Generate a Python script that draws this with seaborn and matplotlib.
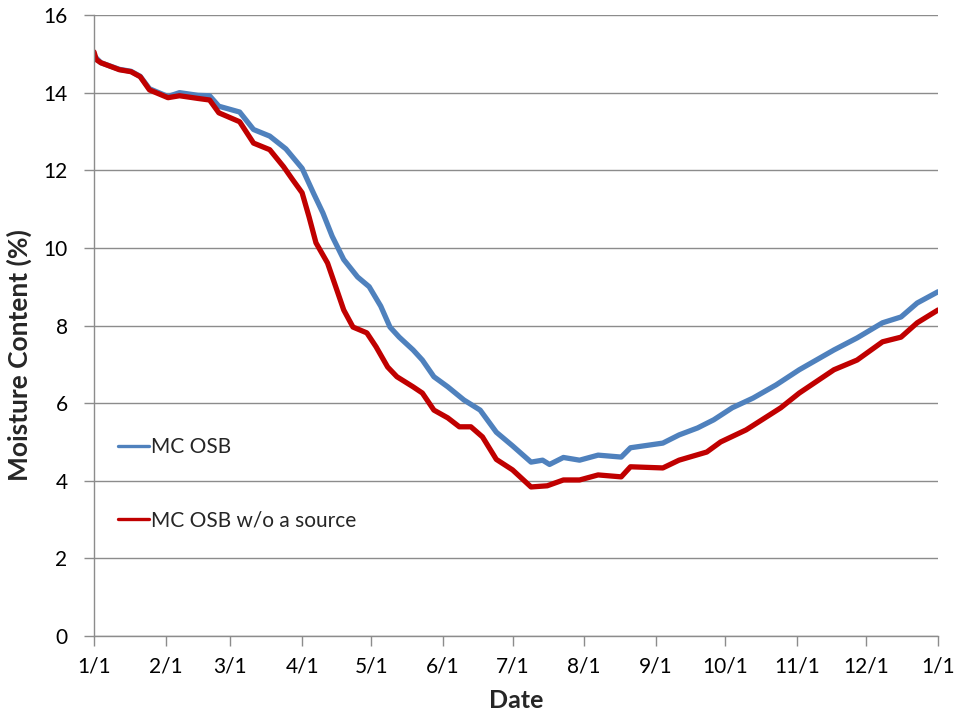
import pandas as pd
import seaborn as sns
import matplotlib.pyplot as plt
from matplotlib.lines import Line2D

# day of year (0 = 1/1) and moisture content
osb_days = [0, 3, 11, 16, 20, 24, 32, 37, 45, 50, 54, 63, 69, 76, 83, 90, 95, 99,
            103, 108, 114, 119, 124, 128, 132, 138, 142, 147, 153, 160, 167, 174,
            181, 189, 194, 197, 203, 210, 218, 228, 232, 246, 253, 261, 268, 276,
            285, 295, 305, 320, 330, 341, 349, 356, 365]
osb_mc = [14.95, 14.77, 14.6, 14.55, 14.42, 14.1, 13.9, 14.0, 13.93, 13.92, 13.65,
          13.5, 13.05, 12.88, 12.55, 12.05, 11.4, 10.9, 10.3, 9.7, 9.25, 9.0, 8.5,
          7.96, 7.7, 7.37, 7.11, 6.68, 6.42, 6.08, 5.82, 5.25, 4.9, 4.48, 4.53,
          4.42, 4.6, 4.53, 4.66, 4.61, 4.85, 4.97, 5.18, 5.36, 5.57, 5.88, 6.13,
          6.47, 6.86, 7.37, 7.68, 8.07, 8.22, 8.58, 8.87]

nosrc_days = [0, 1, 3, 11, 16, 20, 24, 32, 37, 45, 50, 54, 63, 69, 76, 82, 86, 90,
              93, 96, 101, 105, 108, 112, 118, 122, 127, 131, 138, 142, 147, 153,
              158, 163, 168, 174, 181, 189, 196, 203, 210, 218, 228, 232, 246, 253,
              265, 271, 282, 297, 305, 320, 330, 341, 349, 356, 365]
nosrc_mc = [15.05, 14.85, 14.77, 14.59, 14.54, 14.41, 14.07, 13.87, 13.92, 13.85,
            13.81, 13.48, 13.25, 12.7, 12.53, 12.09, 11.75, 11.42, 10.8, 10.13, 9.61,
            8.92, 8.4, 7.96, 7.81, 7.45, 6.93, 6.68, 6.42, 6.26, 5.82, 5.62, 5.39,
            5.39, 5.13, 4.55, 4.28, 3.84, 3.87, 4.02, 4.02, 4.15, 4.1, 4.36, 4.33,
            4.53, 4.74, 5.0, 5.31, 5.88, 6.26, 6.86, 7.11, 7.58, 7.7, 8.07, 8.4]

series_names = ["MC OSB", "MC OSB w/o a source"]
series_colors = ["#4F81BD", "#C00000"]

start = pd.Timestamp("2013-01-01")
df = pd.concat([
    pd.DataFrame({"date": start + pd.to_timedelta(osb_days, unit="D"),
                  "mc": osb_mc, "series": series_names[0]}),
    pd.DataFrame({"date": start + pd.to_timedelta(nosrc_days, unit="D"),
                  "mc": nosrc_mc, "series": series_names[1]}),
])

sns.set_theme(style="white")
plt.rcParams['font.family'] = ['Lato', 'DejaVu Sans']

fig = plt.figure(figsize=(9.56, 7.15), dpi=100)
ax = fig.add_axes([0.0983, 0.1105, 0.8829, 0.8685])

sns.lineplot(data=df, x="date", y="mc", hue="series", palette=series_colors,
             linewidth=3.8, ax=ax, legend=False)

ax.set_ylim(0, 16)
ax.set_yticks(range(0, 17, 2))
ax.set_xlim(start, pd.Timestamp("2014-01-01"))
ticks = pd.date_range("2013-01-01", "2014-01-01", freq="MS")
ax.set_xticks(ticks)
ax.set_xticklabels([f"{t.month}/{t.day}" for t in ticks])

ax.yaxis.grid(True, color="#8c8c8c", linewidth=1.0)
ax.xaxis.grid(False)
ax.set_axisbelow(True)
for s in ["top", "right"]:
    ax.spines[s].set_visible(False)
for s in ["left", "bottom"]:
    ax.spines[s].set_color("#8c8c8c")
    ax.spines[s].set_linewidth(1.0)
ax.tick_params(axis="both", which="major", labelsize=15, length=7, width=1,
               color="#8c8c8c", direction="out", bottom=True, left=True,
               labelcolor="black")
ax.tick_params(axis="y", pad=12)
ax.tick_params(axis="x", pad=8)

ax.set_xlabel("Date", fontsize=18, fontweight="bold")
ax.xaxis.set_label_coords(0.5, -0.085)
ax.set_ylabel("Moisture Content (%)", fontsize=19, fontweight="bold")
ax.yaxis.set_label_coords(-0.074, 0.453)

handles = [Line2D([0], [0], color=c, linewidth=2.4) for c in series_colors]
ax.legend(handles, series_names, loc="upper left", bbox_to_anchor=(0.006, 0.35),
          frameon=False, fontsize=15, handlelength=1.5, handletextpad=0.1,
          labelspacing=2.55)

fig.savefig("out.png", dpi=100)
